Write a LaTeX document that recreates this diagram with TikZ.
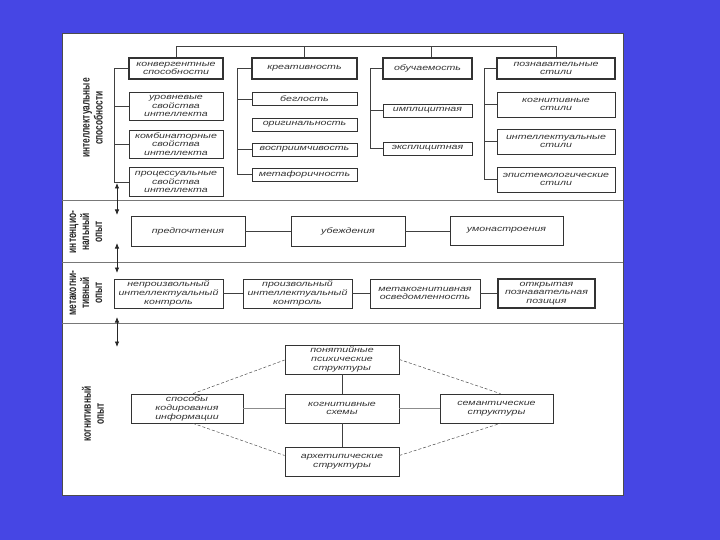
\documentclass[tikz,border=0pt]{standalone}
\usepackage{fontspec}
\usetikzlibrary{arrows.meta}
\newfontfamily\boxfam[FakeStretch=1.36]{Liberation Sans}
\newfontfamily\sidefam[FakeStretch=0.7]{Liberation Sans}
\definecolor{slideblue}{RGB}{70,70,228}
\definecolor{rulegray}{RGB}{120,120,120}

\begin{document}
\begin{tikzpicture}[x=1pt, y=-1pt,
	box/.style={draw=black!80, line width=0.7pt, fill=white, align=center, inner sep=0pt,
		text=black!80, font=\boxfam\itshape\fontsize{7.8}{8.8}\selectfont},
	head/.style={box, line width=1.4pt},
	side/.style={rotate=90, align=center, text=black!85, font=\sidefam\bfseries\fontsize{12}{13}\selectfont},
	link/.style={draw=black!75, line width=0.7pt},
	faint/.style={draw=black!45, line width=0.5pt},
	diag/.style={draw=black!70, line width=0.5pt, densely dashed},
	both/.style={{Latex[length=5.5pt,width=4.5pt]}-{Latex[length=5.5pt,width=4.5pt]}, line width=0.8pt, draw=black!85}]

	\useasboundingbox[fill=slideblue] (0,0) rectangle (720,540);
	\draw[fill=white, draw=black!70, line width=1pt] (62,34) rectangle (623,495);

	% section rules
	\foreach \y in {200,262,323}
		\draw[rulegray, line width=0.8pt] (62,\y) -- (623,\y);

	% side labels
	\node[side] (lintel) at (93,118) {интеллектуальные\\способности};
	\node[side] (lintent) at (86,232) {интенцио-\\нальный\\опыт};
	\node[side] (lmeta) at (86,293) {метакогни-\\тивный\\опыт};
	\node[side] (lcogn) at (93,414) {когнитивный\\опыт};

	\coordinate (a1) at (117,183); \coordinate (a1e) at (117,215);
	\coordinate (a2) at (117,243); \coordinate (a2e) at (117,273);
	\coordinate (a3) at (117,317); \coordinate (a3e) at (117,347);
	\draw[both] (a1) -- (a1e);
	\draw[both] (a2) -- (a2e);
	\draw[both] (a3) -- (a3e);

	% intellectual abilities
	\node[head, minimum width=94, minimum height=21] (conv) at (176,68.5) {конвергентные\\способности};
	\node[box, minimum width=94, minimum height=28] (lev) at (176,106) {уровневые\\свойства\\интеллекта};
	\node[box, minimum width=94, minimum height=28] (comb) at (176,144) {комбинаторные\\свойства\\интеллекта};
	\node[box, minimum width=94, minimum height=29] (proc) at (176,182) {процессуальные\\свойства\\интеллекта};

	\node[head, minimum width=105, minimum height=21] (creat) at (304.5,68.5) {креативность};
	\node[box, minimum width=105, minimum height=13] (flu) at (304.5,99) {беглость};
	\node[box, minimum width=105, minimum height=13] (orig) at (304.5,124.5) {оригинальность};
	\node[box, minimum width=105, minimum height=13] (sens) at (304.5,149.5) {восприимчивость};
	\node[box, minimum width=105, minimum height=13] (meta) at (304.5,174.5) {метафоричность};

	\node[head, minimum width=89, minimum height=21] (learn) at (427.5,68.5) {обучаемость};
	\node[box, minimum width=89, minimum height=13] (impl) at (427.5,110.5) {имплицитная};
	\node[box, minimum width=89, minimum height=13] (expl) at (427.5,148.5) {эксплицитная};

	\node[head, minimum width=118, minimum height=21] (styles) at (556,68.5) {познавательные\\стили};
	\node[box, minimum width=118, minimum height=25] (cstyle) at (556,104.5) {когнитивные\\стили};
	\node[box, minimum width=118, minimum height=25] (istyle) at (556,141.5) {интеллектуальные\\стили};
	\node[box, minimum width=118, minimum height=25] (estyle) at (556,179.5) {эпистемологические\\стили};

	\coordinate (bus) at (0,46);
	\draw[link] (conv.north) -- (conv.north |- bus) -- (styles.north |- bus) -- (styles.north);
	\draw[link] (creat.north) -- (creat.north |- bus);
	\draw[link] ([xshift=4pt]learn.north) -- ([xshift=4pt]learn.north |- bus);

	\coordinate (br1) at (114,0);
	\coordinate (br2) at (237,0);
	\coordinate (br3) at (370,0);
	\coordinate (br4) at (484,0);
	\draw[link] (conv.west) -| (br1 |- proc.west) -- (proc.west);
	\foreach \n in {lev,comb}
		\draw[link] (\n.west) -- (\n.west -| br1);
	\draw[link] (creat.west) -| (br2 |- meta.west) -- (meta.west);
	\foreach \n in {flu,sens}
		\draw[link] (\n.west) -- (\n.west -| br2);
	\draw[link] (learn.west) -| (br3 |- expl.west) -- (expl.west);
	\draw[link] (impl.west) -- (impl.west -| br3);
	\draw[link] (styles.west) -| (br4 |- estyle.west) -- (estyle.west);
	\foreach \n in {cstyle,istyle}
		\draw[link] (\n.west) -- (\n.west -| br4);

	% intentional experience
	\node[box, minimum width=114, minimum height=30] (pref) at (188,231.5) {предпочтения};
	\node[box, minimum width=114, minimum height=30] (bel) at (348,231.5) {убеждения};
	\node[box, minimum width=113, minimum height=29] (mind) at (506.5,230.5) {умонастроения};
	\draw[link] (pref) -- (bel);
	\draw[link] (bel.east) -- (bel.east -| mind.west);

	% metacognitive experience
	\node[box, minimum width=109, minimum height=29] (invol) at (168.5,293.5) {непроизвольный\\интеллектуальный\\контроль};
	\node[box, minimum width=109, minimum height=29] (vol) at (297.5,293.5) {произвольный\\интеллектуальный\\контроль};
	\node[box, minimum width=110, minimum height=29] (aware) at (425,293.5) {метакогнитивная\\осведомленность};
	\node[head, minimum width=97, minimum height=29] (open) at (546.5,293.5) {открытая\\познавательная\\позиция};
	\draw[link] (invol) -- (vol);
	\draw[link] (vol) -- (aware);
	\draw[link] (aware) -- (open);

	% cognitive experience
	\node[box, minimum width=114, minimum height=29] (concept) at (342,359.5) {понятийные\\психические\\структуры};
	\node[box, minimum width=114, minimum height=29] (schema) at (342,408.5) {когнитивные\\схемы};
	\node[box, minimum width=114, minimum height=29] (arch) at (342,461.5) {архетипические\\структуры};
	\node[box, minimum width=112, minimum height=29] (code) at (187,408.5) {способы\\кодирования\\информации};
	\node[box, minimum width=113, minimum height=29] (sem) at (496.5,408.5) {семантические\\структуры};

	\draw[link] (concept) -- (schema);
	\draw[link] (schema) -- (arch);
	\draw[faint] (code) -- (schema);
	\draw[faint] (schema) -- (sem);
	\draw[diag] ([xshift=6pt]code.north) -- ([yshift=-0.5pt]concept.west);
	\draw[diag] ([xshift=6pt]code.south) -- ([yshift=6pt]arch.west);
	\draw[diag] (concept.east) -- ([xshift=4pt]sem.north);
	\draw[diag] ([yshift=6pt]arch.east) -- ([xshift=4pt]sem.south);
\end{tikzpicture}
\end{document}
